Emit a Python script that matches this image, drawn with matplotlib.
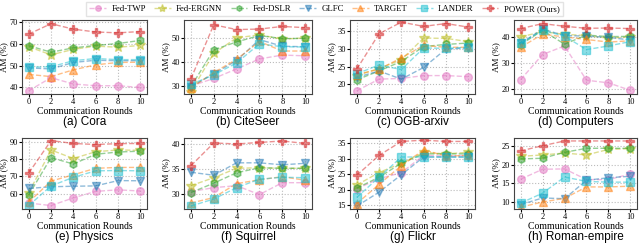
import numpy as np
import matplotlib.pyplot as plt
from matplotlib.lines import Line2D

plt.rcParams['font.family'] = ['Liberation Serif', 'DejaVu Serif']

rounds = [0, 2, 4, 6, 8, 10]
methods = ['Fed-TWP', 'Fed-ERGNN', 'Fed-DSLR', 'GLFC', 'TARGET', 'LANDER', 'POWER (Ours)']
colors = ['#e377c2', '#bcbd22', '#2ca02c', '#1f77b4', '#ff7f0e', '#17becf', '#d62728']
markers = ['o', '*', 'h', 'v', '^', 's', 'P']

cora = [
    [38.5, 44.5, 41.6, 40.8, 40.8, 40.0],
    [58.7, 55.0, 57.5, 59.0, 58.5, 59.3],
    [59.2, 56.2, 58.2, 59.3, 60.2, 61.6],
    [49.0, 48.5, 51.5, 52.5, 52.3, 52.3],
    [46.0, 45.0, 48.1, 50.4, 51.5, 51.6],
    [49.3, 49.5, 52.3, 53.3, 52.8, 52.8],
    [64.5, 69.3, 66.8, 65.5, 65.1, 65.7],
]
citeseer = [
    [29.8, 33.0, 37.0, 41.2, 42.8, 42.5],
    [27.5, 43.5, 50.0, 51.3, 49.5, 50.0],
    [29.5, 45.0, 48.3, 51.0, 49.7, 49.8],
    [29.5, 35.0, 40.5, 49.3, 46.5, 46.3],
    [29.0, 35.5, 41.0, 48.5, 44.5, 44.5],
    [30.5, 34.5, 39.5, 47.5, 46.3, 46.2],
    [32.8, 55.5, 53.5, 53.7, 54.8, 54.3],
]
arxiv = [
    [18.2, 21.5, 21.7, 22.5, 22.5, 22.2],
    [22.5, 24.5, 27.0, 33.1, 33.0, 32.1],
    [21.3, 23.8, 26.5, 30.7, 31.3, 31.7],
    [22.0, 23.8, 21.5, 24.8, 30.0, 30.3],
    [22.8, 24.3, 27.5, 31.0, 30.5, 30.5],
    [23.0, 25.5, 24.2, 30.3, 30.2, 30.5],
    [24.3, 34.3, 37.6, 36.4, 37.2, 36.2],
]
computers = [
    [23.5, 33.2, 36.5, 23.3, 22.3, 19.4],
    [40.0, 42.0, 41.0, 40.5, 39.5, 40.0],
    [37.0, 42.5, 37.2, 40.7, 40.1, 40.2],
    [37.5, 43.0, 40.5, 40.3, 39.8, 38.8],
    [36.0, 41.0, 40.0, 39.0, 38.0, 38.5],
    [37.5, 42.5, 40.3, 35.1, 36.5, 38.2],
    [43.2, 45.1, 44.1, 43.3, 43.4, 43.2],
]
physics = [
    [54.5, 53.0, 57.5, 61.3, 62.2, 61.5],
    [60.5, 85.5, 80.5, 84.5, 85.5, 85.3],
    [59.2, 81.0, 77.3, 83.0, 84.3, 84.8],
    [63.0, 64.0, 64.3, 64.5, 67.6, 67.5],
    [55.0, 67.3, 71.0, 74.8, 75.3, 75.3],
    [53.0, 64.5, 69.5, 73.3, 73.5, 73.3],
    [72.0, 91.0, 89.3, 88.7, 89.2, 89.3],
]
squirrel = [
    [30.5, 31.3, 31.7, 29.9, 32.3, 32.3],
    [31.7, 33.3, 35.2, 35.3, 35.2, 35.2],
    [30.3, 32.2, 34.3, 35.3, 35.2, 35.2],
    [34.4, 33.8, 36.3, 36.3, 35.9, 36.2],
    [28.2, 29.3, 32.1, 32.9, 33.5, 32.8],
    [27.6, 29.0, 31.3, 33.0, 33.4, 33.3],
    [35.7, 40.3, 40.1, 40.4, 40.7, 40.2],
]
flickr = [
    [20.3, 23.5, 25.5, 31.0, 30.8, 31.0],
    [21.5, 25.5, 28.5, 32.0, 31.5, 32.0],
    [20.5, 24.0, 28.5, 31.5, 31.5, 31.5],
    [14.7, 19.2, 24.8, 30.5, 30.5, 30.5],
    [15.5, 21.7, 27.7, 32.8, 30.8, 31.0],
    [17.5, 24.0, 30.5, 30.5, 30.5, 30.5],
    [24.6, 31.0, 35.5, 35.9, 35.5, 35.5],
]
roman = [
    [16.1, 18.8, 18.9, 16.0, 16.0, 17.5],
    [22.3, 22.7, 23.2, 22.7, 24.2, 24.4],
    [21.6, 21.8, 23.4, 24.5, 24.5, 24.5],
    [9.2, 11.0, 10.8, 15.8, 16.5, 16.9],
    [8.5, 9.9, 10.9, 14.0, 14.0, 14.2],
    [9.6, 12.3, 16.7, 15.5, 15.3, 15.3],
    [23.8, 25.2, 26.5, 26.5, 26.5, 26.5],
]

panels = [
    ('(a) Cora', cora, (37, 71), [40, 50, 60, 70]),
    ('(b) CiteSeer', citeseer, (26.5, 57.5), [30, 40, 50]),
    ('(c) OGB-arxiv', arxiv, (17.3, 38.2), [20, 25, 30, 35]),
    ('(d) Computers', computers, (18, 46.5), [20, 30, 40]),
    ('(e) Physics', physics, (51, 92.5), [60, 70, 80, 90]),
    ('(f) Squirrel', squirrel, (27, 41.3), [30, 35, 40]),
    ('(g) Flickr', flickr, (13.8, 36.6), [15, 20, 25, 30, 35]),
    ('(h) Roman-empire', roman, (8, 27.3), [10, 15, 20, 25]),
]

W, H = 640, 244
fig = plt.figure(figsize=(6.4, 2.44), dpi=100)
lefts = [22, 184, 350, 514]
rights = [147, 312, 475, 637]
rows = [(20, 94), (138, 209)]

for i, (title, data, ylim, yticks) in enumerate(panels):
    r, c = divmod(i, 4)
    top, bot = rows[r]
    ax = fig.add_axes([lefts[c] / W, 1 - bot / H, (rights[c] - lefts[c]) / W, (bot - top) / H])
    for j in range(len(methods)):
        ax.plot(rounds, data[j], linestyle='--', color=colors[j], marker=markers[j],
                markersize=5.5 if markers[j] != '*' else 7.5, alpha=0.5, linewidth=1.0)
    ax.set_ylim(*ylim)
    ax.set_xlim(-0.6, 10.6)
    ax.set_xticks(rounds)
    ax.set_yticks(yticks)
    ax.grid(True, linestyle=':', color='#bbbbbb', linewidth=0.8)
    ax.tick_params(labelsize=6, length=2, pad=1)
    for s in ax.spines.values():
        s.set_color('#444444')
        s.set_linewidth(0.8)
    ax.set_ylabel('AM (%)', fontsize=6.5, labelpad=0.5)
    ax.set_xlabel('Communication Rounds', fontsize=7, labelpad=0.5)
    ax.annotate(title, xy=(0.5, 0), xycoords='axes fraction', xytext=(0, -20),
                textcoords='offset points', ha='center', va='center',
                fontsize=8.5, family=['Liberation Sans', 'DejaVu Sans'])

handles = [Line2D([], [], linestyle='--', color=colors[j], marker=markers[j],
                  markersize=4 if markers[j] != '*' else 6, alpha=0.5, linewidth=1.0)
           for j in range(len(methods))]
fig.legend(handles, methods, loc='center', bbox_to_anchor=(0.507, 0.962), ncol=7,
           fontsize=6.3, frameon=True, edgecolor='#dddddd', fancybox=False,
           handlelength=1.9, columnspacing=0.95, borderpad=0.35, handletextpad=0.6)

fig.savefig('out.png', dpi=100)
